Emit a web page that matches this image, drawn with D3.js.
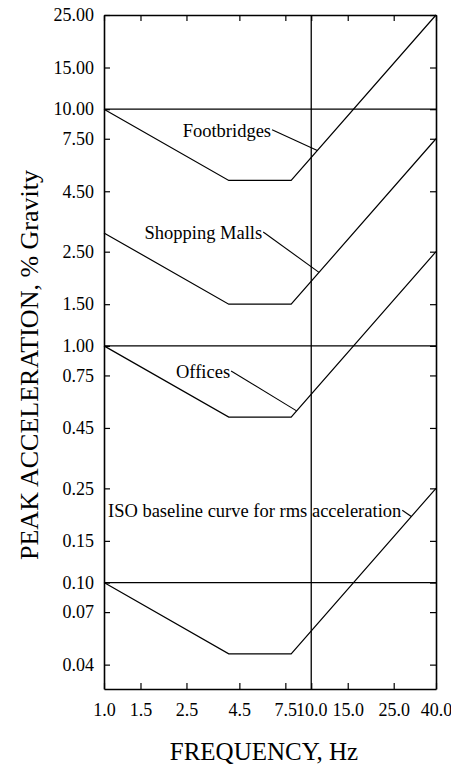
<!DOCTYPE html>
<html>
<head>
<meta charset="utf-8">
<script src="https://cdn.jsdelivr.net/npm/d3@7"></script>
<style>
  html, body { margin: 0; padding: 0; background: #fff; }
  svg { display: block; }
  text { font-family: "Liberation Serif", "DejaVu Serif", serif; fill: #000; }
</style>
</head>
<body>
<div id="chart"></div>
<script>
// Frequency breakpoints (Hz) shared by every tolerance curve
const breakpoints = [1, 4, 8, 40];

// Peak acceleration limits (% gravity) at each breakpoint
const footbridges = [10, 5, 5, 25];
const shoppingMalls = [3, 1.5, 1.5, 7.5];
const offices = [1, 0.5, 0.5, 2.5];
const isoBaseline = [0.1, 0.05, 0.05, 0.25];

const seriesNames = ["Footbridges", "Shopping Malls", "Offices", "ISO baseline curve for rms acceleration"];
const seriesValues = [footbridges, shoppingMalls, offices, isoBaseline];

// Axis ticks and their printed labels
const xTicks = [1, 1.5, 2.5, 4.5, 7.5, 10, 15, 25, 40];
const xTickLabels = ["1.0", "1.5", "2.5", "4.5", "7.5", "10.0", "15.0", "25.0", "40.0"];
const yTicks = [25, 15, 10, 7.5, 4.5, 2.5, 1.5, 1, 0.75, 0.45, 0.25, 0.15, 0.1, 0.075, 0.045];
const yTickLabels = ["25.00", "15.00", "10.00", "7.50", "4.50", "2.50", "1.50", "1.00", "0.75", "0.45", "0.25", "0.15", "0.10", "0.07", "0.04"];

// Reference grid lines
const hGrid = [10, 1, 0.1];
const vGrid = [10];

// Callout placement: text ends at (textF, textA), leader runs to the curve at targetF
const calloutTextF = [6.4, 5.8, 4.06, 27.2];
const calloutTextA = [8.1, 3.0, 0.776, 0.2];
const calloutTargetF = [10.7, 10.9, 8.5, 30.4];

const W = 451, H = 765;
const margin = { top: 15, right: 15, bottom: 76, left: 104 };
const iw = W - margin.left - margin.right;
const ih = H - margin.top - margin.bottom;

const svg = d3.select("#chart").append("svg").attr("width", W).attr("height", H);
const g = svg.append("g").attr("transform", `translate(${margin.left},${margin.top})`);

const x = d3.scaleLog().domain([1, 40]).range([0, iw]);
const y = d3.scaleLog().domain([0.0355, 25]).range([ih, 0]);

// Value of a curve at frequency f (piecewise power law => straight in log-log)
function curveAt(vals, f) {
  for (let i = 0; i < breakpoints.length - 1; i++) {
    const f0 = breakpoints[i], f1 = breakpoints[i + 1];
    if (f >= f0 && f <= f1) {
      const t = Math.log(f / f0) / Math.log(f1 / f0);
      return Math.exp(Math.log(vals[i]) + t * Math.log(vals[i + 1] / vals[i]));
    }
  }
  return vals[vals.length - 1];
}

// Grid lines
g.selectAll(".hgrid").data(hGrid).enter().append("line")
  .attr("x1", 0).attr("x2", iw)
  .attr("y1", d => y(d)).attr("y2", d => y(d))
  .attr("stroke", "#000").attr("stroke-width", 1.3);
g.selectAll(".vgrid").data(vGrid).enter().append("line")
  .attr("x1", d => x(d)).attr("x2", d => x(d))
  .attr("y1", 0).attr("y2", ih)
  .attr("stroke", "#000").attr("stroke-width", 1.3);

// Axes with inward ticks on all four sides
const tickLen = 6;
const xAxisB = d3.axisBottom(x).tickValues(xTicks).tickSizeInner(-tickLen).tickSizeOuter(0)
  .tickFormat((d, i) => xTickLabels[i]).tickPadding(14);
const xAxisT = d3.axisTop(x).tickValues(xTicks).tickSizeInner(-tickLen).tickSizeOuter(0).tickFormat("");
const yAxisL = d3.axisLeft(y).tickValues(yTicks).tickSizeInner(-tickLen).tickSizeOuter(0)
  .tickFormat((d, i) => yTickLabels[i]).tickPadding(10);
const yAxisR = d3.axisRight(y).tickValues(yTicks).tickSizeInner(-tickLen).tickSizeOuter(0).tickFormat("");

function styleAxis(sel) {
  sel.select(".domain").attr("stroke", "#000").attr("stroke-width", 1.6);
  sel.selectAll(".tick line").attr("stroke", "#000").attr("stroke-width", 1.2);
  sel.selectAll(".tick text").attr("font-size", 18).attr("fill", "#000")
    .attr("font-family", '"Liberation Serif", serif');
}

g.append("g").attr("transform", `translate(0,${ih})`).call(xAxisB).call(styleAxis);
g.append("g").call(xAxisT).call(styleAxis);
g.append("g").call(yAxisL).call(styleAxis);
g.append("g").attr("transform", `translate(${iw},0)`).call(yAxisR).call(styleAxis);

// Tolerance curves
const line = d3.line().x(d => x(d[0])).y(d => y(d[1]));
g.selectAll(".curve").data(seriesValues).enter().append("path")
  .attr("d", vals => line(breakpoints.map((f, i) => [f, vals[i]])))
  .attr("fill", "none").attr("stroke", "#000").attr("stroke-width", 1.2);

// Callout labels with leader lines
seriesNames.forEach((name, i) => {
  const tx = x(calloutTextF[i]), ty = y(calloutTextA[i]);
  g.append("text")
    .attr("x", tx).attr("y", ty).attr("dy", "0.33em")
    .attr("text-anchor", "end").attr("font-size", 18.5)
    .text(name);
  const tf = calloutTargetF[i];
  g.append("line")
    .attr("x1", tx + 1).attr("y1", ty - 1)
    .attr("x2", x(tf)).attr("y2", y(curveAt(seriesValues[i], tf)))
    .attr("stroke", "#000").attr("stroke-width", 1.1);
});

// Axis titles
svg.append("text")
  .attr("x", 264).attr("y", 760)
  .attr("text-anchor", "middle").attr("font-size", 25)
  .text("FREQUENCY, Hz");
svg.append("text")
  .attr("transform", `translate(38,365) rotate(-90)`)
  .attr("text-anchor", "middle").attr("font-size", 26)
  .text("PEAK ACCELERATION, % Gravity");
</script>
</body>
</html>
